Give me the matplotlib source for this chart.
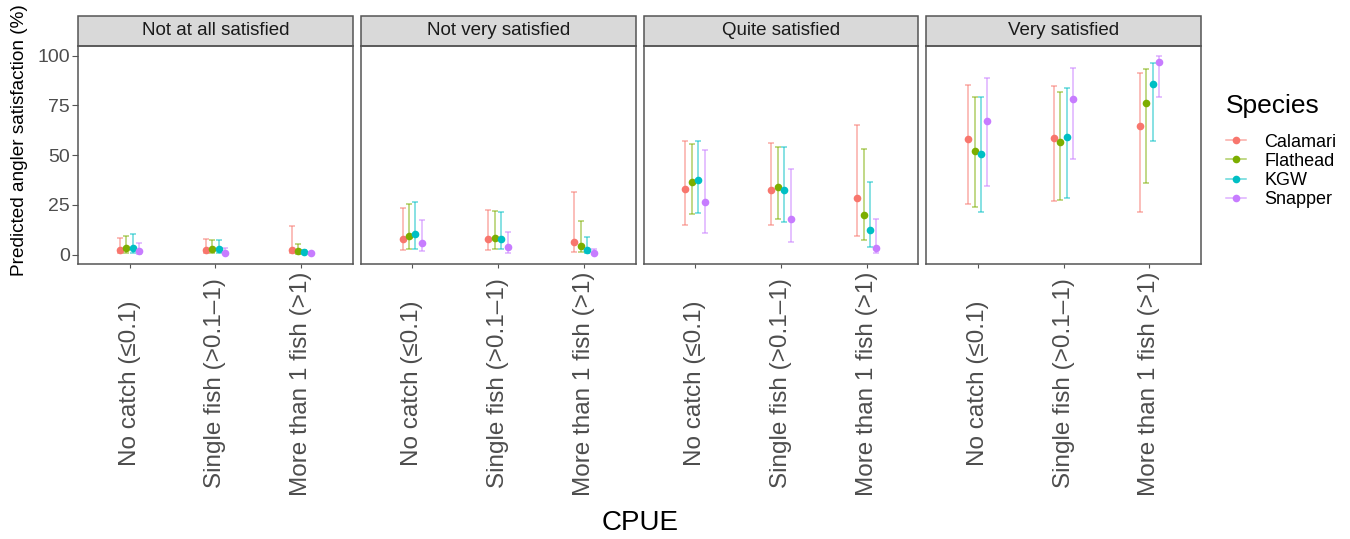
import matplotlib
matplotlib.use("Agg")
import matplotlib.pyplot as plt
import numpy as np
from matplotlib.lines import Line2D
from matplotlib.patches import Rectangle
from matplotlib.legend_handler import HandlerTuple

plt.rcParams["font.family"] = ["Liberation Sans", "DejaVu Sans"]

panels = ["Not at all satisfied", "Not very satisfied", "Quite satisfied", "Very satisfied"]
cpue = ["No catch (\u22640.1)", "Single fish (>0.1\u20131)", "More than 1 fish (>1)"]
species = ["Calamari", "Flathead", "KGW", "Snapper"]
colors = ["#F8766D", "#7CAE00", "#00BFC4", "#C77CFF"]

# values per species: 4 panels x 3 CPUE levels, in panel order
calamari_est = [2.2, 2.2, 2.2, 7.9, 7.9, 6.5, 32.8, 32.3, 28.3, 57.9, 58.8, 64.5]
calamari_lo = [1.0, 1.0, 0.6, 2.5, 2.5, 1.5, 15.1, 15.1, 9.4, 25.5, 27.1, 21.4]
calamari_hi = [8.4, 8.0, 14.2, 23.6, 22.3, 31.7, 56.9, 56.1, 65.2, 85.1, 84.6, 91.0]

flathead_est = [3.4, 2.9, 1.7, 9.5, 8.2, 4.2, 36.3, 33.8, 19.7, 52.1, 56.4, 76.2]
flathead_lo = [0.8, 0.9, 0.5, 2.9, 2.9, 1.3, 20.6, 17.7, 7.2, 23.8, 27.6, 36.2]
flathead_hi = [9.5, 7.5, 5.5, 25.3, 22.0, 16.9, 55.6, 54.1, 53.1, 79.2, 81.6, 93.1]

kgw_est = [3.4, 2.7, 1.5, 10.2, 7.9, 2.4, 37.5, 32.5, 12.2, 50.8, 59.1, 85.8]
kgw_lo = [0.8, 0.8, 0.5, 2.9, 2.7, 0.6, 21.0, 16.2, 4.0, 21.4, 28.6, 56.9]
kgw_hi = [10.5, 7.5, 2.5, 26.6, 21.3, 8.7, 56.9, 54.1, 36.3, 79.2, 83.6, 96.3]

snapper_est = [1.8, 1.0, 0.9, 5.7, 3.7, 0.8, 26.6, 18.1, 3.4, 67.3, 78.4, 96.8]
snapper_lo = [0.5, 0.3, 0.3, 1.8, 1.0, 0.3, 10.7, 6.2, 0.8, 34.5, 48.1, 79.2]
snapper_hi = [5.9, 3.5, 1.5, 17.2, 11.6, 2.9, 52.4, 43.1, 17.7, 88.9, 93.5, 99.8]

series = [
    (calamari_est, calamari_lo, calamari_hi),
    (flathead_est, flathead_lo, flathead_hi),
    (kgw_est, kgw_lo, kgw_hi),
    (snapper_est, snapper_lo, snapper_hi),
]

W, H = 1350, 539
fig = plt.figure(figsize=(W / 100, H / 100), dpi=100)

left0, right_end = 78, 1201
gap = 8
pw = (right_end - left0 - 3 * gap) / 4
top_px, bot_px = 46, 264
strip_px = 30
border = "#555555"
dodge = np.array([-0.1125, -0.0375, 0.0375, 0.1125])
x = np.arange(1, 4)

for p, title in enumerate(panels):
    lx = left0 + p * (pw + gap)
    ax = fig.add_axes([lx / W, 1 - bot_px / H, pw / W, (bot_px - top_px) / H])
    for s, (est, lo, hi) in enumerate(series):
        e = np.array(est[p * 3:p * 3 + 3])
        l = np.array(lo[p * 3:p * 3 + 3])
        h = np.array(hi[p * 3:p * 3 + 3])
        xs = x + dodge[s]
        ax.errorbar(xs, e, yerr=[e - l, h - e], fmt="none", ecolor=colors[s],
                    alpha=0.6, elinewidth=1.1, capsize=2.2, capthick=1.1)
        ax.plot(xs, e, "o", color=colors[s], ms=5.5, mec="none", zorder=3)
    ax.set_xlim(0.4, 3.6)
    ax.set_ylim(-4.7, 104.8)
    ax.set_xticks(x)
    ax.set_xticklabels(cpue, rotation=90, va="center", ha="center",
                       fontsize=17.5, color="#4D4D4D")
    ax.tick_params(axis="x", length=3, color=border, pad=83)
    ax.set_yticks([0, 25, 50, 75, 100])
    if p == 0:
        ax.set_yticklabels(["0", "25", "50", "75", "100"], fontsize=14, color="#4D4D4D")
        ax.tick_params(axis="y", length=4, color=border, pad=2)
    else:
        ax.tick_params(axis="y", left=False, labelleft=False)
    for sp in ax.spines.values():
        sp.set_color(border)
        sp.set_linewidth(1.1)
    sh = strip_px / (bot_px - top_px)
    ax.add_patch(Rectangle((0, 1), 1, sh, transform=ax.transAxes, clip_on=False,
                           facecolor="#D9D9D9", edgecolor=border, linewidth=1.1))
    ax.text(0.5, 1 + sh / 2, title, transform=ax.transAxes, ha="center", va="center",
            fontsize=13.5, color="#1A1A1A")

fig.text(20 / W, 1 - 140 / H, "Predicted angler satisfaction (%)", rotation=90,
         ha="center", va="center", fontsize=13.7)
fig.text(640 / W, 1 - 523 / H, "CPUE", ha="center", va="center", fontsize=20)

handles = []
for c in colors:
    ln = Line2D([], [], color=c, alpha=0.6, lw=1.1)
    pt = Line2D([], [], color=c, marker="o", ls="none", ms=5.5, mec="none")
    handles.append((ln, pt))
leg = fig.legend(handles, species, handler_map={tuple: HandlerTuple(ndivide=1)},
                 loc="upper left", bbox_to_anchor=(1210 / W, 1 - 78 / H),
                 frameon=False, title="Species", title_fontsize=19, fontsize=13,
                 handlelength=1.1, handletextpad=1.0, labelspacing=0.12)
leg._legend_box.align = "left"
leg._legend_box.sep = 11

fig.savefig("out.png", dpi=100)
